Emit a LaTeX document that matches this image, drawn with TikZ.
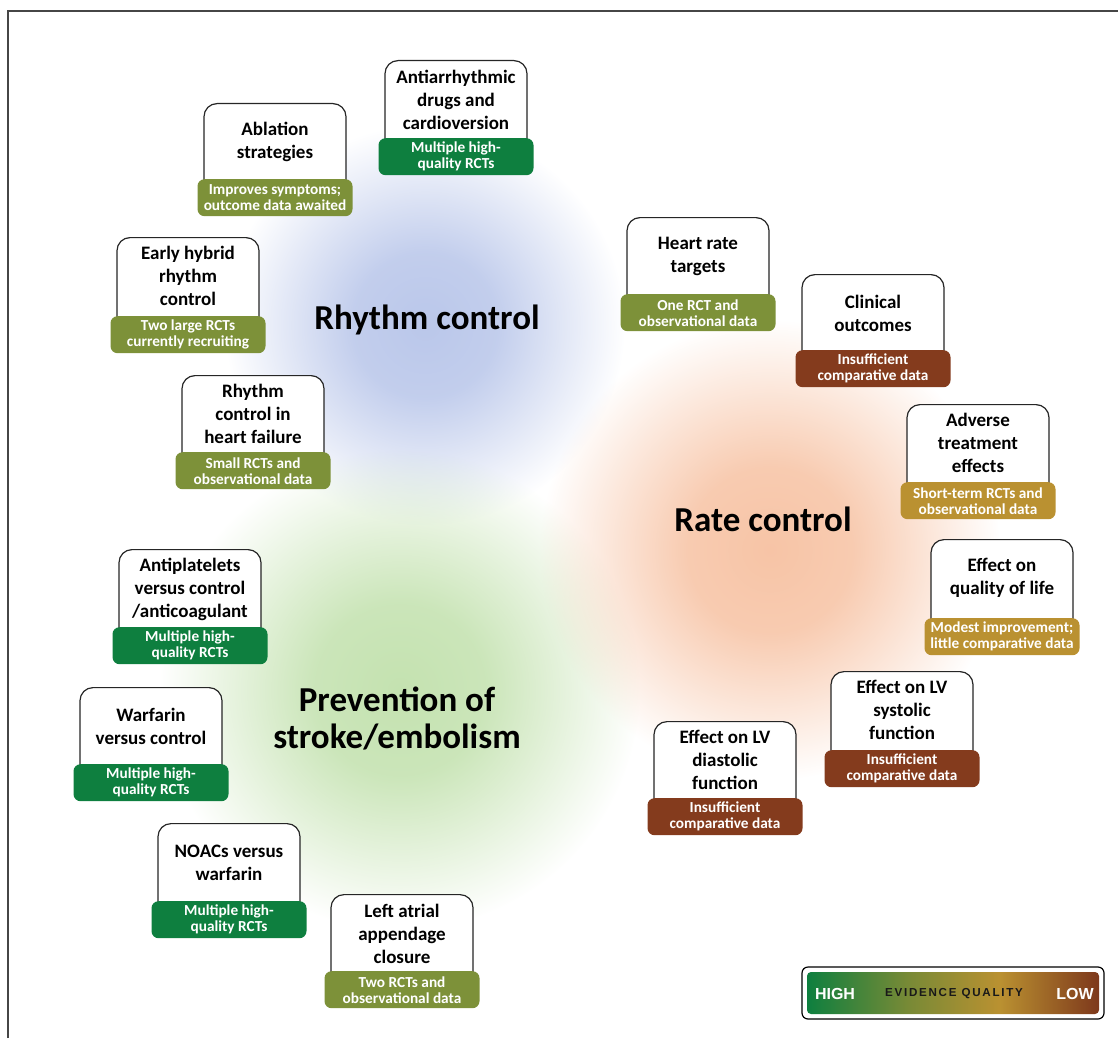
\documentclass[tikz,border=0pt]{standalone}
\usepackage{fontspec}
\setmainfont{Carlito}
\newfontfamily\legendfont{Liberation Sans}
\newfontfamily\legendwide[LetterSpace=15]{Liberation Sans}
\usetikzlibrary{fadings}

\definecolor{high}{RGB}{14,127,63}
\definecolor{fair}{RGB}{125,145,57}
\definecolor{weak}{RGB}{186,145,49}
\definecolor{low}{RGB}{132,59,29}
\definecolor{rhythmglow}{RGB}{186,199,234}
\definecolor{rateglow}{RGB}{247,196,166}
\definecolor{strokeglow}{RGB}{196,226,176}
\definecolor{framegray}{RGB}{70,70,70}
\pgfdeclarehorizontalshading{evidence}{100bp}{color(0bp)=(high); color(25bp)=(high); color(42bp)=(fair!95!black); color(58bp)=(weak); color(75bp)=(low!95!black); color(100bp)=(low!95!black)}
\pgfdeclareradialshading{glowshade}{\pgfpoint{0bp}{0bp}}{color(0bp)=(white); color(9bp)=(white!88!black); color(25bp)=(black); color(50bp)=(black)}
\pgfdeclarefading{glow}{\pgfuseshading{glowshade}}

\begin{document}
\begin{tikzpicture}[x=1pt, y=-1pt]
    \tikzstyle{every node}=[inner sep=0pt]
    \tikzstyle{topbox}=[draw=black!85, line width=1.2pt, fill=white, rounded corners=13pt, minimum width=142pt, minimum height=92pt, anchor=north]
    \tikzstyle{boxtext}=[font=\fontsize{19}{23}\selectfont\bfseries, align=center]
    \tikzstyle{evbox}=[rounded corners=7pt, minimum width=155pt, minimum height=37pt, anchor=north, text=white, align=center, font=\fontsize{15.3}{16}\selectfont\bfseries]
    \tikzstyle{theme}=[font=\fontsize{35}{37}\selectfont\bfseries, align=center]
    \useasboundingbox (0,0) rectangle (1118,1038);
    % soft colour clouds behind the three themes
    \fill[rhythmglow, path fading=glow] (425,325) circle (200);
    \fill[strokeglow, path fading=glow] (400,690) circle (240);
    \fill[rateglow, path fading=glow] (770,550) circle (230);
    \draw[line width=1.6pt, framegray] (8,1038) -- (8,11) -- (1118,11);

    % rhythm control
    \node[theme] (rhythm) at (427,320) {Rhythm control};
    \node[topbox] (aad) at (456,60) {};
    \node[boxtext] (aadT) at ([yshift=-40pt]aad.north) {Antiarrhythmic\\drugs and\\cardioversion};
    \node[evbox, fill=high] (aadE) at ([yshift=-78pt]aad.north) {Multiple high-\\quality RCTs};
    \node[topbox] (abl) at (275,103) {};
    \node[boxtext] (ablT) at ([yshift=-39pt]abl.north) {Ablation\\strategies};
    \node[evbox, fill=fair] (ablE) at ([yshift=-76pt]abl.north) {Improves symptoms;\\outcome data awaited};
    \node[topbox] (ehr) at (188,237) {};
    \node[boxtext] (ehrT) at ([yshift=-39pt]ehr.north) {Early hybrid\\rhythm\\control};
    \node[evbox, fill=fair] (ehrE) at ([yshift=-79pt]ehr.north) {Two large RCTs\\currently recruiting};
    \node[topbox] (rhf) at (253,375) {};
    \node[boxtext] (rhfT) at ([yshift=-39pt]rhf.north) {Rhythm\\control in\\heart failure};
    \node[evbox, fill=fair] (rhfE) at ([yshift=-77pt]rhf.north) {Small RCTs and\\observational data};

    % rate control
    \node[theme] (rate) at (763,519) {Rate control};
    \node[topbox] (hrt) at (698,217) {};
    \node[boxtext] (hrtT) at ([yshift=-39pt]hrt.north) {Heart rate\\targets};
    \node[evbox, fill=fair] (hrtE) at ([yshift=-77pt]hrt.north) {One RCT and\\observational data};
    \node[topbox] (clo) at (873,274) {};
    \node[boxtext] (cloT) at ([yshift=-39pt]clo.north) {Clinical\\outcomes};
    \node[evbox, fill=low] (cloE) at ([yshift=-76pt]clo.north) {Insufficient\\comparative data};
    \node[topbox] (ate) at (978,404) {};
    \node[boxtext] (ateT) at ([yshift=-39pt]ate.north) {Adverse\\treatment\\effects};
    \node[evbox, fill=weak] (ateE) at ([yshift=-78pt]ate.north) {Short-term RCTs and\\observational data};
    \node[topbox] (qol) at (1002,539) {};
    \node[boxtext] (qolT) at ([yshift=-39pt]qol.north) {Effect on\\quality of life};
    \node[evbox, fill=weak] (qolE) at ([yshift=-79pt]qol.north) {Modest improvement;\\little comparative data};
    \node[topbox] (lvs) at (902,671) {};
    \node[boxtext] (lvsT) at ([yshift=-39pt]lvs.north) {Effect on LV\\systolic\\function};
    \node[evbox, fill=low] (lvsE) at ([yshift=-79pt]lvs.north) {Insufficient\\comparative data};
    \node[topbox] (lvd) at (725,721) {};
    \node[boxtext] (lvdT) at ([yshift=-39pt]lvd.north) {Effect on LV\\diastolic\\function};
    \node[evbox, fill=low] (lvdE) at ([yshift=-77pt]lvd.north) {Insufficient\\comparative data};

    % prevention of stroke
    \node[theme] (stroke) at (397,718) {Prevention of\\stroke/embolism};
    \node[topbox] (apl) at (190,549) {};
    \node[boxtext] (aplT) at ([yshift=-40pt]apl.north) {Antiplatelets\\versus control\\/anticoagulant};
    \node[evbox, fill=high] (aplE) at ([yshift=-78pt]apl.north) {Multiple high-\\quality RCTs};
    \node[topbox] (wfc) at (151,687) {};
    \node[boxtext] (wfcT) at ([yshift=-39pt]wfc.north) {Warfarin\\versus control};
    \node[evbox, fill=high] (wfcE) at ([yshift=-77pt]wfc.north) {Multiple high-\\quality RCTs};
    \node[topbox] (noa) at (229,823) {};
    \node[boxtext] (noaT) at ([yshift=-40pt]noa.north) {NOACs versus\\warfarin};
    \node[evbox, fill=high] (noaE) at ([yshift=-78pt]noa.north) {Multiple high-\\quality RCTs};
    \node[topbox] (laa) at (402,894) {};
    \node[boxtext] (laaT) at ([yshift=-40pt]laa.north) {Left atrial\\appendage\\closure};
    \node[evbox, fill=fair] (laaE) at ([yshift=-77pt]laa.north) {Two RCTs and\\observational data};

    % evidence quality scale
    \node[draw, line width=1.2pt, fill=white, rounded corners=6pt, minimum width=302pt, minimum height=52pt] (legend) at (953,993) {};
    \node[shading=evidence, rounded corners=4pt, minimum width=292pt, minimum height=42pt] (scale) at (953,993) {};
    \node[text=white, font=\legendfont\fontsize{16}{16}\selectfont\bfseries] (hi) at (835,994) {HIGH};
    \node[text=black!90, font=\legendwide\fontsize{11.6}{12}\selectfont\bfseries] (eq) at (954,994) {EVIDENCE QUALITY};
    \node[text=white, font=\legendfont\fontsize{16}{16}\selectfont\bfseries] (lo) at (1075,994) {LOW};
\end{tikzpicture}
\end{document}
